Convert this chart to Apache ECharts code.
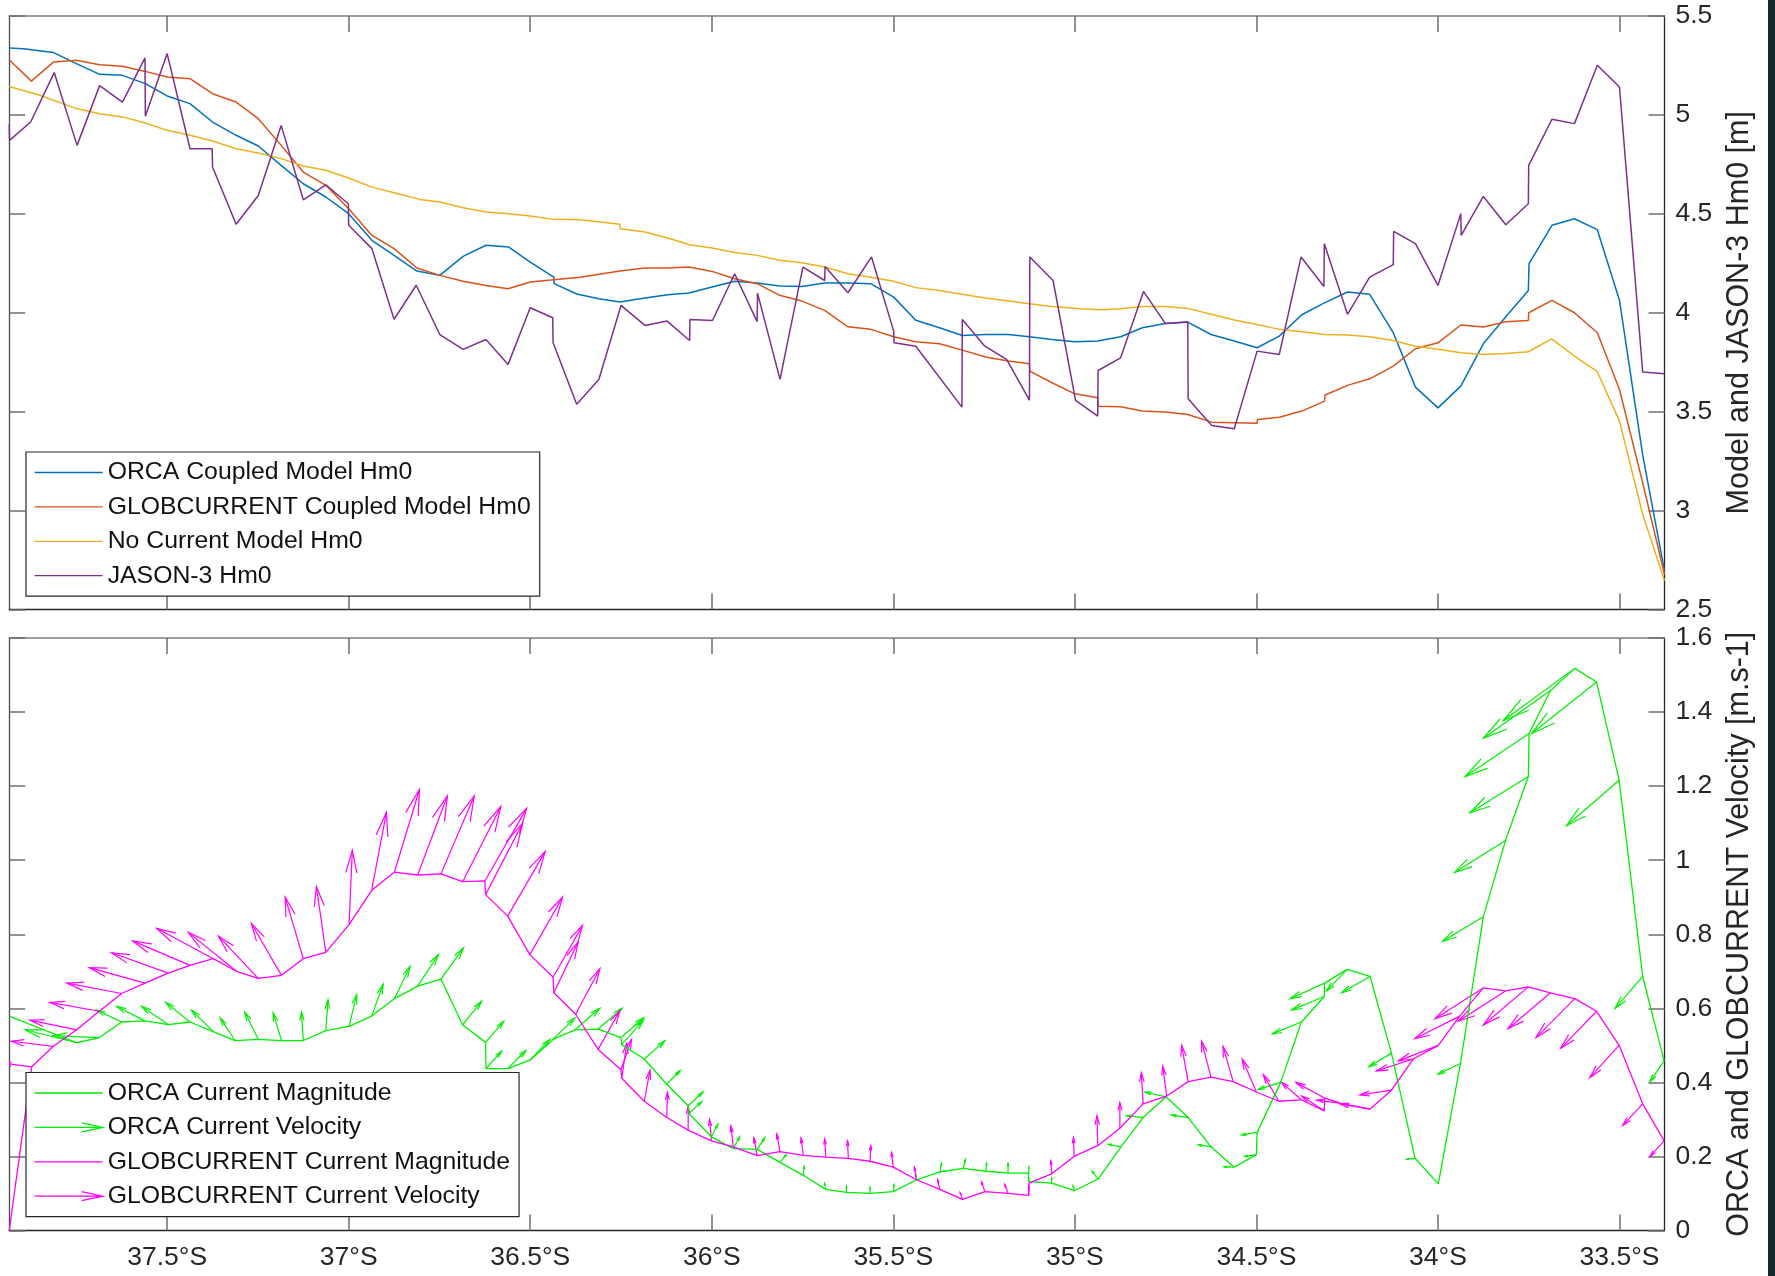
<!DOCTYPE html>
<html>
<head>
<meta charset="utf-8">
<title>Hm0 and surface current along the JASON-3 track</title>
<script src="https://cdn.jsdelivr.net/npm/echarts@6.0.0/dist/echarts.min.js"></script>
<style>
  html, body { margin: 0; padding: 0; background: #ffffff; }
  #chart { width: 1775px; height: 1276px; }
</style>
</head>
<body>
<div id="chart"></div>
<script>
// ---------- Axis extents and tick positions (latitude, negative = south) ----------
const LAT_MIN = -37.935;
const LAT_MAX = -33.376;
const latTicks = [-37.5, -37, -36.5, -36, -35.5, -35, -34.5, -34, -33.5];

// ---------- Upper panel: significant wave height Hm0 [m] ----------
const orcaCoupledLat = [
  -37.935, -37.896, -37.813, -37.750, -37.686, -37.623, -37.560, -37.500, -37.437, -37.375,
  -37.310, -37.249, -37.186, -37.125, -37.063, -37.000, -36.936, -36.875, -36.812, -36.749,
  -36.685, -36.622, -36.559, -36.500, -36.435, -36.434, -36.372, -36.311, -36.253, -36.184,
  -36.121, -36.063, -35.999, -35.937, -35.875, -35.813, -35.752, -35.689, -35.625, -35.562,
  -35.499, -35.438, -35.373, -35.310, -35.246, -35.183, -35.125, -35.063, -35.000, -34.937,
  -34.874, -34.814, -34.751, -34.689, -34.625, -34.561, -34.498, -34.437, -34.375, -34.314,
  -34.249, -34.188, -34.123, -34.062, -34.000, -33.937, -33.875, -33.813, -33.751, -33.749,
  -33.686, -33.624, -33.561, -33.500, -33.436, -33.376
];
const orcaCoupledHs = [
  5.338, 5.335, 5.315, 5.259, 5.205, 5.200, 5.158, 5.096, 5.057, 4.964,
  4.897, 4.843, 4.745, 4.652, 4.585, 4.501, 4.366, 4.290, 4.211, 4.189,
  4.285, 4.341, 4.332, 4.256, 4.180, 4.147, 4.095, 4.071, 4.054, 4.074,
  4.091, 4.100, 4.130, 4.159, 4.150, 4.135, 4.133, 4.150, 4.150, 4.147,
  4.079, 3.962, 3.924, 3.885, 3.890, 3.890, 3.879, 3.865, 3.853, 3.857,
  3.879, 3.924, 3.946, 3.953, 3.890, 3.857, 3.823, 3.882, 3.990, 4.049,
  4.105, 4.093, 3.899, 3.624, 3.519, 3.629, 3.843, 3.980, 4.113, 4.248,
  4.442, 4.475, 4.420, 4.063, 3.280, 2.694
];

const globCoupledLat = [
  -37.935, -37.874, -37.813, -37.750, -37.686, -37.623, -37.560, -37.500, -37.437, -37.375,
  -37.310, -37.249, -37.186, -37.125, -37.063, -37.000, -36.936, -36.875, -36.812, -36.749,
  -36.685, -36.622, -36.561, -36.500, -36.435, -36.363, -36.253, -36.184, -36.121, -36.063,
  -35.999, -35.937, -35.875, -35.813, -35.752, -35.689, -35.625, -35.562, -35.499, -35.438,
  -35.373, -35.310, -35.246, -35.183, -35.125, -35.124, -35.063, -35.000, -34.937, -34.936,
  -34.874, -34.814, -34.751, -34.689, -34.623, -34.561, -34.498, -34.497, -34.437, -34.375,
  -34.312, -34.311, -34.249, -34.188, -34.123, -34.062, -34.000, -33.937, -33.875, -33.813,
  -33.751, -33.750, -33.686, -33.624, -33.561, -33.500, -33.436, -33.376
];
const globCoupledHs = [
  5.279, 5.171, 5.267, 5.276, 5.254, 5.246, 5.220, 5.192, 5.183, 5.107,
  5.065, 4.981, 4.846, 4.711, 4.644, 4.526, 4.391, 4.324, 4.226, 4.189,
  4.159, 4.138, 4.121, 4.155, 4.167, 4.180, 4.211, 4.226, 4.226, 4.231,
  4.209, 4.172, 4.147, 4.088, 4.059, 4.012, 3.929, 3.916, 3.879, 3.853,
  3.843, 3.811, 3.776, 3.756, 3.742, 3.705, 3.646, 3.590, 3.570, 3.528,
  3.525, 3.503, 3.498, 3.486, 3.447, 3.444, 3.441, 3.461, 3.472, 3.503,
  3.553, 3.584, 3.633, 3.666, 3.730, 3.818, 3.848, 3.938, 3.928, 3.955,
  3.961, 4.000, 4.063, 4.000, 3.899, 3.612, 3.140, 2.677
];

const noCurrentLat = [
  -37.935, -37.855, -37.750, -37.686, -37.623, -37.560, -37.500, -37.437, -37.375, -37.310,
  -37.249, -37.186, -37.125, -37.063, -37.000, -36.936, -36.875, -36.804, -36.749, -36.685,
  -36.622, -36.561, -36.500, -36.435, -36.363, -36.253, -36.252, -36.184, -36.121, -36.061,
  -35.999, -35.937, -35.875, -35.813, -35.752, -35.689, -35.625, -35.562, -35.499, -35.438,
  -35.373, -35.310, -35.246, -35.183, -35.125, -35.063, -34.984, -34.930, -34.874, -34.814,
  -34.751, -34.689, -34.625, -34.561, -34.498, -34.437, -34.375, -34.312, -34.249, -34.188,
  -34.123, -34.062, -34.000, -33.937, -33.875, -33.813, -33.751, -33.687, -33.624, -33.561,
  -33.500, -33.436, -33.376
];
const noCurrentHs = [
  5.144, 5.102, 5.032, 5.006, 4.990, 4.959, 4.922, 4.897, 4.868, 4.829,
  4.807, 4.779, 4.742, 4.720, 4.681, 4.635, 4.607, 4.573, 4.560, 4.531,
  4.509, 4.501, 4.489, 4.472, 4.470, 4.447, 4.425, 4.408, 4.378, 4.344,
  4.327, 4.304, 4.290, 4.265, 4.253, 4.231, 4.197, 4.180, 4.159, 4.127,
  4.113, 4.093, 4.074, 4.059, 4.046, 4.032, 4.020, 4.015, 4.020, 4.032,
  4.032, 4.022, 3.992, 3.963, 3.941, 3.916, 3.904, 3.890, 3.887, 3.879,
  3.860, 3.831, 3.815, 3.798, 3.789, 3.794, 3.803, 3.868, 3.781, 3.702,
  3.452, 2.980, 2.646
];

const jasonLat = [
  -37.935, -37.934, -37.876, -37.811, -37.748, -37.686, -37.623, -37.561, -37.560, -37.500,
  -37.437, -37.376, -37.375, -37.310, -37.249, -37.186, -37.125, -37.063, -37.001, -37.000,
  -36.936, -36.875, -36.814, -36.749, -36.685, -36.622, -36.561, -36.500, -36.438, -36.437,
  -36.372, -36.311, -36.250, -36.184, -36.123, -36.061, -36.060, -35.998, -35.937, -35.875,
  -35.874, -35.812, -35.749, -35.689, -35.688, -35.625, -35.560, -35.499, -35.498, -35.438,
  -35.311, -35.310, -35.248, -35.188, -35.125, -35.124, -35.060, -34.998, -34.937, -34.936,
  -34.874, -34.811, -34.751, -34.689, -34.688, -34.623, -34.561, -34.498, -34.437, -34.377,
  -34.314, -34.313, -34.249, -34.188, -34.123, -34.122, -34.062, -34.000, -33.937, -33.936,
  -33.875, -33.813, -33.751, -33.750, -33.686, -33.624, -33.561, -33.500, -33.436, -33.376
];
const jasonHs = [
  4.952, 4.871, 4.964, 5.214, 4.846, 5.148, 5.065, 5.288, 4.993, 5.310,
  4.829, 4.829, 4.737, 4.447, 4.593, 4.947, 4.571, 4.647, 4.551, 4.442,
  4.324, 3.967, 4.139, 3.890, 3.815, 3.865, 3.739, 4.025, 3.975, 3.848,
  3.537, 3.663, 4.037, 3.936, 3.958, 3.860, 3.966, 3.961, 4.197, 3.955,
  4.099, 3.663, 4.231, 4.163, 4.234, 4.101, 4.282, 3.907, 3.848, 3.831,
  3.523, 3.966, 3.831, 3.764, 3.558, 4.282, 4.163, 3.557, 3.478, 3.708,
  3.772, 4.108, 3.946, 3.953, 3.565, 3.430, 3.414, 3.806, 3.789, 4.282,
  4.133, 4.349, 3.992, 4.180, 4.243, 4.411, 4.349, 4.138, 4.501, 4.391,
  4.588, 4.445, 4.551, 4.745, 4.978, 4.956, 5.251, 5.141, 3.700, 3.692
];

// ---------- Lower panel: current magnitude [m/s] and quiver components ----------
// U = arrow extent along latitude (deg), V = arrow extent along speed axis (m/s)
const orcaLat = [
  -37.935, -37.749, -37.687, -37.625, -37.561, -37.497, -37.437, -37.373, -37.313, -37.249,
  -37.185, -37.125, -37.063, -36.999, -36.937, -36.874, -36.810, -36.746, -36.686, -36.623,
  -36.622, -36.562, -36.501, -36.437, -36.377, -36.313, -36.250, -36.248, -36.186, -36.124,
  -36.065, -36.063, -36.001, -35.941, -35.875, -35.812, -35.748, -35.686, -35.629, -35.564,
  -35.500, -35.436, -35.372, -35.307, -35.245, -35.184, -35.128, -35.127, -35.064, -35.000,
  -34.936, -34.873, -34.812, -34.749, -34.688, -34.625, -34.561, -34.500, -34.498, -34.433,
  -34.376, -34.313, -34.312, -34.250, -34.187, -34.128, -34.063, -33.999, -33.938, -33.875,
  -33.814, -33.751, -33.749, -33.690, -33.623, -33.563, -33.501, -33.436, -33.377
];
const orcaSpeed = [
  0.579, 0.507, 0.521, 0.563, 0.566, 0.556, 0.563, 0.537, 0.513, 0.516,
  0.513, 0.513, 0.540, 0.551, 0.579, 0.626, 0.660, 0.679, 0.555, 0.508,
  0.437, 0.437, 0.460, 0.516, 0.542, 0.544, 0.521, 0.502, 0.463, 0.395,
  0.337, 0.316, 0.253, 0.221, 0.219, 0.184, 0.149, 0.111, 0.103, 0.100,
  0.105, 0.137, 0.158, 0.168, 0.160, 0.155, 0.155, 0.132, 0.128, 0.108,
  0.139, 0.226, 0.305, 0.361, 0.305, 0.226, 0.171, 0.205, 0.265, 0.400,
  0.563, 0.632, 0.668, 0.705, 0.686, 0.479, 0.195, 0.126, 0.451, 0.847,
  1.053, 1.226, 1.342, 1.458, 1.518, 1.481, 1.216, 0.686, 0.458
];
const orcaU = [
  0, -0.142, -0.127, -0.069, -0.078, -0.073, -0.067, -0.060, -0.041, -0.037,
  -0.023, -0.005, 0.006, 0.021, 0.032, 0.043, 0.057, 0.062, 0.052, 0.050,
  0.043, 0.050, 0.055, 0.060, 0.069, 0.066, 0.062, 0.060, 0.057, 0.037,
  0.041, 0.035, 0.018, 0.018, 0.021, 0.017, 0.003, -0.003, 0, 0,
  0.002, -0.003, 0.005, 0.005, 0.002, 0, 0.002, 0, 0, -0.005,
  -0.017, -0.035, -0.046, -0.058, -0.046, -0.035, -0.028, -0.032, -0.043, -0.062,
  -0.080, -0.090, -0.095, -0.057, -0.078, -0.062, -0.023, 0, -0.062, -0.112,
  -0.140, -0.161, -0.176, -0.185, -0.197, -0.179, -0.145, -0.076, -0.039
];
const orcaV = [
  0, 0.035, 0.005, 0.032, 0.039, 0.049, 0.053, 0.058, 0.061, 0.074,
  0.075, 0.077, 0.083, 0.086, 0.086, 0.087, 0.085, 0.084, 0.064, 0.057,
  0.047, 0.049, 0.056, 0.058, 0.058, 0.056, 0.053, 0.066, 0.049, 0.037,
  0.037, 0.032, 0.034, 0.032, 0.031, 0.021, 0.024, 0.016, 0.015, 0.016,
  0.019, 0.016, 0.023, 0.024, 0.022, 0.026, 0.016, 0.010, 0.014, 0.013,
  0.021, 0.007, 0.005, 0.013, 0.007, 0.005, 0.001, -0.005, -0.007, -0.019,
  -0.032, -0.037, -0.042, -0.058, -0.044, -0.037, -0.003, 0, -0.029, -0.066,
  -0.086, -0.098, -0.116, -0.129, -0.141, -0.139, -0.123, -0.086, -0.056
];

const globLat = [
  -37.935, -37.873, -37.814, -37.749, -37.687, -37.625, -37.561, -37.497, -37.437, -37.373,
  -37.309, -37.249, -37.185, -37.125, -37.063, -36.999, -36.937, -36.874, -36.810, -36.746,
  -36.686, -36.625, -36.623, -36.562, -36.501, -36.437, -36.435, -36.375, -36.313, -36.250,
  -36.248, -36.186, -36.124, -36.065, -36.001, -35.941, -35.875, -35.812, -35.748, -35.686,
  -35.624, -35.564, -35.500, -35.436, -35.372, -35.309, -35.248, -35.184, -35.127, -35.126,
  -35.064, -35.002, -34.937, -34.876, -34.812, -34.747, -34.688, -34.625, -34.564, -34.500,
  -34.438, -34.376, -34.313, -34.312, -34.270, -34.187, -34.128, -34.068, -33.999, -33.940,
  -33.875, -33.814, -33.751, -33.690, -33.623, -33.563, -33.501, -33.436, -33.377
];
const globSpeed = [
  0.000, 0.442, 0.497, 0.542, 0.592, 0.640, 0.668, 0.695, 0.716, 0.734,
  0.700, 0.681, 0.689, 0.734, 0.751, 0.826, 0.918, 0.968, 0.960, 0.963,
  0.942, 0.944, 0.907, 0.849, 0.745, 0.684, 0.642, 0.584, 0.489, 0.434,
  0.411, 0.349, 0.305, 0.271, 0.242, 0.226, 0.202, 0.213, 0.203, 0.198,
  0.195, 0.187, 0.171, 0.137, 0.111, 0.084, 0.105, 0.100, 0.095, 0.128,
  0.153, 0.200, 0.229, 0.276, 0.342, 0.363, 0.402, 0.414, 0.402, 0.374,
  0.349, 0.353, 0.323, 0.358, 0.344, 0.328, 0.379, 0.463, 0.500, 0.579,
  0.655, 0.647, 0.658, 0.642, 0.626, 0.592, 0.500, 0.342, 0.242
];
const globU = [
  0, -0.080, -0.115, -0.129, -0.136, -0.151, -0.153, -0.156, -0.158, -0.156,
  -0.133, -0.110, -0.083, -0.050, -0.026, 0.009, 0.041, 0.069, 0.082, 0.092,
  0.105, 0.115, 0.102, 0.103, 0.090, 0.081, 0.067, 0.067, 0.060, 0.029,
  0.014, 0.016, 0.002, 0, -0.005, -0.006, -0.009, -0.009, -0.006, -0.003,
  -0.002, 0.002, -0.005, -0.006, -0.006, -0.007, -0.009, -0.009, 0, 0,
  -0.002, -0.002, -0.002, 0, -0.005, -0.011, -0.018, -0.026, -0.028, -0.039,
  -0.043, -0.055, -0.062, -0.079, -0.064, -0.083, -0.087, -0.101, -0.110, -0.124,
  -0.133, -0.130, -0.124, -0.117, -0.107, -0.099, -0.081, -0.055, -0.039
];
const globV = [
  0, 0.010, 0.014, 0.026, 0.024, 0.028, 0.042, 0.055, 0.066, 0.082,
  0.105, 0.114, 0.140, 0.166, 0.178, 0.200, 0.211, 0.223, 0.214, 0.211,
  0.203, 0.196, 0.193, 0.174, 0.155, 0.140, 0.137, 0.123, 0.105, 0.082,
  0.095, 0.084, 0.068, 0.064, 0.058, 0.056, 0.048, 0.048, 0.047, 0.049,
  0.047, 0.042, 0.040, 0.034, 0.026, 0.018, 0.026, 0.024, 0.026, 0,
  0.035, 0.051, 0.081, 0.069, 0.084, 0.081, 0.098, 0.097, 0.095, 0.089,
  0.072, 0.047, 0.040, 0.042, 0.008, 0.014, -0.013, -0.032, -0.042, -0.061,
  -0.083, -0.082, -0.103, -0.097, -0.105, -0.100, -0.087, -0.058, -0.042
];

// ---------- Styling ----------
const FONT = '"Liberation Sans", Arial, Helvetica, sans-serif';
const INK = '#262626';
const C_ORCA_HS = '#0072BD';
const C_GLOB_HS = '#D95319';
const C_NOCUR = '#EDB120';
const C_JASON = '#7E2F8E';
const C_ORCA_CUR = '#00ee00';
const C_GLOB_CUR = '#ff00ff';

const pairs = (xs, ys) => xs.map((x, i) => [x, ys[i]]);
const quads = (xs, ys, us, vs) => xs.map((x, i) => [x, ys[i], us[i], vs[i]]);
const fmtLat = v => Math.abs(v) + '°S';

// Quiver arrow: shaft from (lat, speed) to (lat+U, speed+V), open head at the tip
function quiverRenderer(color) {
  return function (params, api) {
    const x = api.value(0), y = api.value(1), u = api.value(2), v = api.value(3);
    if (!u && !v) return null;
    const p0 = api.coord([x, y]);
    const p1 = api.coord([x + u, y + v]);
    const dx = p1[0] - p0[0], dy = p1[1] - p0[1];
    const len = Math.hypot(dx, dy);
    if (len < 1) return null;
    const ux = dx / len, uy = dy / len;
    const hl = 0.3 * len, hw = 0.075 * len;
    const bx = p1[0] - ux * hl, by = p1[1] - uy * hl;
    const st = { stroke: color, lineWidth: 1.2, fill: null };
    return {
      type: 'group',
      children: [
        { type: 'polyline', shape: { points: [p0, p1] }, style: st },
        { type: 'polyline', shape: { points: [[bx - uy * hw, by + ux * hw], p1, [bx + uy * hw, by - ux * hw]] }, style: st }
      ]
    };
  };
}

function latAxis(gridIndex, position, withLabels) {
  return {
    type: 'value', gridIndex, position,
    min: LAT_MIN, max: LAT_MAX,
    axisLine: { show: true, onZero: false,
      lineStyle: { color: position === 'top' ? '#7f7f7f' : INK, width: position === 'top' ? 1.5 : 1.3 } },
    axisTick: { show: true, inside: true, length: 16, customValues: latTicks,
      lineStyle: { color: '#6e6e6e', width: 1.5 } },
    axisLabel: { show: withLabels, customValues: latTicks, formatter: fmtLat,
      fontFamily: FONT, fontSize: 26.5, color: INK, margin: 14 },
    splitLine: { show: false }
  };
}

function valueAxis(gridIndex, position, min, max, interval, name) {
  const right = position === 'right';
  return {
    type: 'value', gridIndex, position, min, max, interval,
    axisLine: { show: true, onZero: false, lineStyle: { color: right ? INK : '#4a4a4a', width: 1.3 } },
    axisTick: { show: true, inside: true, length: 16, lineStyle: { color: '#6e6e6e', width: 1.5 } },
    axisLabel: { show: right, fontFamily: FONT, fontSize: 26.5, color: INK, margin: 11 },
    splitLine: { show: false },
    name: right ? name : '',
    nameLocation: 'middle',
    nameRotate: 90,
    nameGap: 60,
    nameTextStyle: { fontFamily: FONT, fontSize: 30.5, color: INK }
  };
}

// Legend keys: plain line for magnitudes / wave heights, line with open head for velocities
const lineIcon = 'path://M0,0L0,0M0,7L68,7M68,14L68,14';
const arrowIcon = 'path://M0,7L68,7M47,2.5L68,7L47,11.5';
const legendKey = (name, icon, color) => ({
  name, icon,
  itemStyle: { color: 'rgba(0,0,0,0)', borderColor: color, borderWidth: 1.3 }
});

const legendCommon = {
  orient: 'vertical', left: 26,
  itemWidth: 68, itemHeight: 14, itemGap: 9.4,
  padding: [8, 9, 8, 8],
  borderColor: INK, borderWidth: 1.2, backgroundColor: '#ffffff',
  textStyle: { fontFamily: FONT, fontSize: 24.8, color: '#111111' },
  selectedMode: false
};

const option = {
  animation: false,
  backgroundColor: '#ffffff',
  grid: [
    { left: 9.2, right: 110.5, top: 16, height: 593.5 },
    { left: 9.2, right: 110.5, top: 638, height: 592.5 }
  ],
  xAxis: [
    latAxis(0, 'bottom', false),
    latAxis(0, 'top', false),
    latAxis(1, 'bottom', true),
    latAxis(1, 'top', false)
  ],
  yAxis: [
    valueAxis(0, 'right', 2.5, 5.5, 0.5, 'Model and JASON-3 Hm0 [m]'),
    valueAxis(0, 'left', 2.5, 5.5, 0.5, ''),
    valueAxis(1, 'right', 0, 1.6, 0.2, 'ORCA and GLOBCURRENT Velocity [m.s-1]'),
    valueAxis(1, 'left', 0, 1.6, 0.2, '')
  ],
  legend: [
    Object.assign({}, legendCommon, {
      top: 452,
      data: [
        legendKey('ORCA Coupled Model Hm0', lineIcon, C_ORCA_HS),
        legendKey('GLOBCURRENT Coupled Model Hm0', lineIcon, C_GLOB_HS),
        legendKey('No Current Model Hm0', lineIcon, C_NOCUR),
        legendKey('JASON-3 Hm0', lineIcon, C_JASON)
      ]
    }),
    Object.assign({}, legendCommon, {
      top: 1072.5,
      data: [
        legendKey('ORCA Current Magnitude', lineIcon, C_ORCA_CUR),
        legendKey('ORCA Current Velocity', arrowIcon, C_ORCA_CUR),
        legendKey('GLOBCURRENT Current Magnitude', lineIcon, C_GLOB_CUR),
        legendKey('GLOBCURRENT Current Velocity', arrowIcon, C_GLOB_CUR)
      ]
    })
  ],
  series: [
    { name: 'ORCA Coupled Model Hm0', type: 'line', xAxisIndex: 0, yAxisIndex: 0, symbol: 'none',
      lineStyle: { color: C_ORCA_HS, width: 1.5 }, itemStyle: { color: C_ORCA_HS },
      data: pairs(orcaCoupledLat, orcaCoupledHs) },
    { name: 'GLOBCURRENT Coupled Model Hm0', type: 'line', xAxisIndex: 0, yAxisIndex: 0, symbol: 'none',
      lineStyle: { color: C_GLOB_HS, width: 1.5 }, itemStyle: { color: C_GLOB_HS },
      data: pairs(globCoupledLat, globCoupledHs) },
    { name: 'No Current Model Hm0', type: 'line', xAxisIndex: 0, yAxisIndex: 0, symbol: 'none',
      lineStyle: { color: C_NOCUR, width: 1.5 }, itemStyle: { color: C_NOCUR },
      data: pairs(noCurrentLat, noCurrentHs) },
    { name: 'JASON-3 Hm0', type: 'line', xAxisIndex: 0, yAxisIndex: 0, symbol: 'none',
      lineStyle: { color: C_JASON, width: 1.5 }, itemStyle: { color: C_JASON },
      data: pairs(jasonLat, jasonHs) },

    { name: 'ORCA Current Magnitude', type: 'line', xAxisIndex: 2, yAxisIndex: 2, symbol: 'none',
      lineStyle: { color: C_ORCA_CUR, width: 1.3 }, itemStyle: { color: C_ORCA_CUR },
      data: pairs(orcaLat, orcaSpeed) },
    { name: 'ORCA Current Velocity', type: 'custom', xAxisIndex: 2, yAxisIndex: 2, clip: true,
      itemStyle: { color: C_ORCA_CUR },
      dimensions: ['lat', 'speed', 'u', 'v'], encode: { x: 'lat', y: 'speed' },
      renderItem: quiverRenderer(C_ORCA_CUR),
      data: quads(orcaLat, orcaSpeed, orcaU, orcaV) },
    { name: 'GLOBCURRENT Current Magnitude', type: 'line', xAxisIndex: 2, yAxisIndex: 2, symbol: 'none',
      lineStyle: { color: C_GLOB_CUR, width: 1.3 }, itemStyle: { color: C_GLOB_CUR },
      data: pairs(globLat, globSpeed) },
    { name: 'GLOBCURRENT Current Velocity', type: 'custom', xAxisIndex: 2, yAxisIndex: 2, clip: true,
      itemStyle: { color: C_GLOB_CUR },
      dimensions: ['lat', 'speed', 'u', 'v'], encode: { x: 'lat', y: 'speed' },
      renderItem: quiverRenderer(C_GLOB_CUR),
      data: quads(globLat, globSpeed, globU, globV) }
  ],
  graphic: [
    { type: 'rect', left: 1768, top: 0, shape: { width: 7, height: 1276 },
      style: { fill: '#13282f' }, silent: true, z: 100 }
  ]
};

const chart = echarts.init(document.getElementById('chart'), null, { renderer: 'canvas' });
chart.setOption(option);
</script>
</body>
</html>
